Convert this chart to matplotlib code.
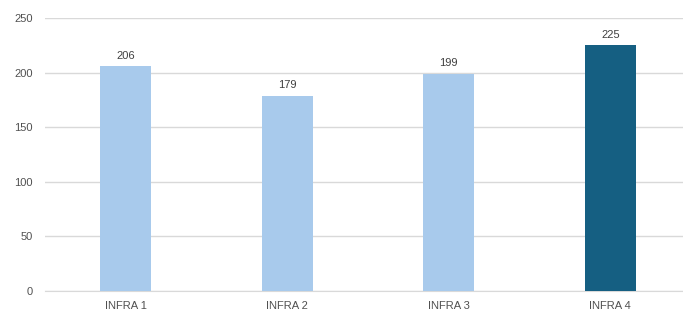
import matplotlib.pyplot as plt
import numpy as np

plt.rcParams['font.family'] = ['Liberation Sans', 'DejaVu Sans']

categories = ['INFRA 1', 'INFRA 2', 'INFRA 3', 'INFRA 4']
values = [206, 179, 199, 225]
colors = ['#a8caec', '#a8caec', '#a8caec', '#155f82']

fig = plt.figure(figsize=(6.83, 3.13), dpi=100)
ax = fig.add_axes([0.0659, 0.0703, 0.9341, 0.8722])

x = np.arange(len(categories))
ax.bar(x, values, width=0.316, color=colors, zorder=3)
for xi, v in zip(x, values):
    ax.text(xi, v + 5, str(v), ha='center', va='bottom', fontsize=8, color='#404040')

ax.set_ylim(0, 250)
ax.set_yticks(range(0, 251, 50))
ax.set_xlim(-0.5, 3.45)
ax.set_xticks(x)
ax.set_xticklabels(categories)
ax.grid(axis='y', color='#d9d9d9', linewidth=1, zorder=0)
for s in ['top', 'right', 'left']:
    ax.spines[s].set_visible(False)
ax.spines['bottom'].set_color('#d9d9d9')
ax.tick_params(axis='both', length=0, labelsize=8, labelcolor='#505050')
ax.tick_params(axis='y', pad=9)
ax.tick_params(axis='x', pad=7)

fig.savefig('out.png', dpi=100)
